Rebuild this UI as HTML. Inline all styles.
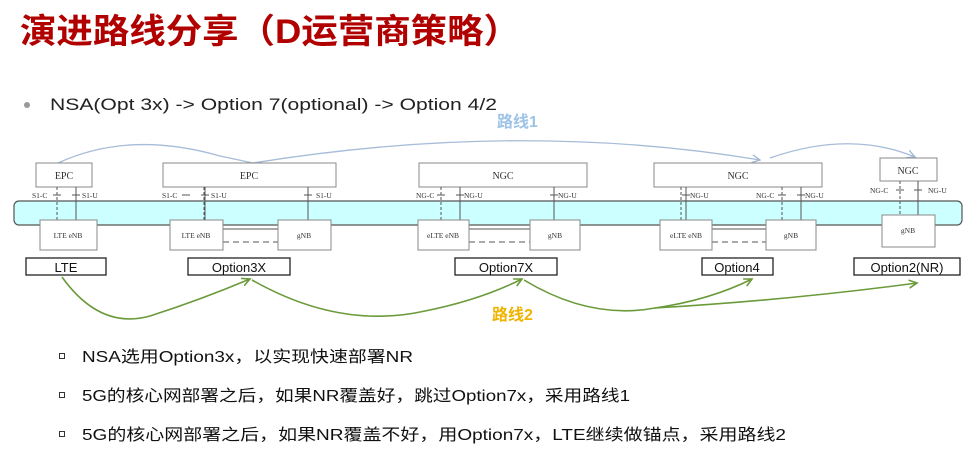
<!DOCTYPE html>
<html><head><meta charset="utf-8"><style>
html,body{margin:0;padding:0;background:#fff;}
svg{display:block;}
</style></head><body>
<svg width="973" height="461" viewBox="0 0 973 461" xmlns="http://www.w3.org/2000/svg" font-family="'Liberation Sans','Noto Sans CJK SC',sans-serif">
<defs>
<marker id="ab" markerWidth="10" markerHeight="10" refX="8" refY="5" orient="auto" markerUnits="userSpaceOnUse"><path d="M0,1 L8,5 L0,9" fill="none" stroke="#9fb6d6" stroke-width="1.3"/></marker>
<marker id="ag" markerWidth="10" markerHeight="10" refX="8" refY="5" orient="auto" markerUnits="userSpaceOnUse"><path d="M0,1 L8,5 L0,9" fill="none" stroke="#6a9a3a" stroke-width="1.6"/></marker>
</defs>
<text x="20" y="43" font-size="34" font-weight="bold" fill="#b00000" textLength="500" lengthAdjust="spacingAndGlyphs">演进路线分享（D运营商策略）</text>
<circle cx="27" cy="105" r="3" fill="#999"/>
<text x="50" y="110" font-size="17" fill="#222" textLength="447" lengthAdjust="spacingAndGlyphs">NSA(Opt 3x) -&gt; Option 7(optional) -&gt; Option 4/2</text>
<text x="497" y="127" font-size="16" font-weight="bold" fill="#9dc3e6">路线1</text>
<!-- route 1 -->
<g fill="none" stroke="#a7bcd8" stroke-width="1.3">
<path d="M58,163 Q130,130 220,156 L253,163"/>
<path d="M253,163 Q520,120 760,160" marker-end="url(#ab)"/>
<path d="M770,158 Q850,130 915,157" marker-end="url(#ab)"/>
</g>
<!-- band -->
<rect x="14" y="201" width="948" height="24" rx="5" fill="#ccffff" stroke="#555" stroke-width="1.2"/>
<g fill="#fff" stroke="#888" stroke-width="1">
<rect x="36" y="163" width="56" height="24"/>
<rect x="163" y="163" width="173" height="24"/>
<rect x="419" y="163" width="168" height="24"/>
<rect x="654" y="163" width="168" height="24"/>
<rect x="880" y="158" width="57" height="23"/>
</g>
<g stroke="#555" stroke-width="1" fill="none">
<path d="M57,187 V220 M204,187 V220 M441,187 V220 M681,187 V220 M900,181 V215 M782,187 V220" stroke-dasharray="3,2"/>
<path d="M76,187 V220 M205,187 V220 M308,187 V220 M460,187 V220 M554,187 V220 M686,187 V220 M801,187 V220 M918,181 V215"/>
<path d="M53,195 H61 M72,195 H80 M182,195 H190 M201,195 H209 M304,195 H312 M437,195 H445 M456,195 H464 M550,195 H558 M682,195 H690 M778,195 H786 M797,195 H805 M896,190 H904 M914,190 H922"/>
<path d="M223,242 H278 M469,242 H530 M712,242 H766" stroke-dasharray="6,4"/>
<path d="M223,229 H278 M469,229 H530 M712,229 H766"/>
</g>
<g fill="#fff" stroke="#888" stroke-width="1">
<rect x="40" y="220" width="57" height="30"/>
<rect x="170" y="220" width="53" height="30"/>
<rect x="278" y="220" width="53" height="30"/>
<rect x="418" y="220" width="51" height="30"/>
<rect x="530" y="220" width="50" height="30"/>
<rect x="660" y="220" width="52" height="30"/>
<rect x="766" y="220" width="50" height="30"/>
<rect x="882" y="215" width="53" height="32"/>
</g>
<g font-family="'Liberation Serif',serif" fill="#333" text-anchor="middle">
<g font-size="10"><text x="64" y="179">EPC</text><text x="249" y="179">EPC</text><text x="503" y="179">NGC</text><text x="738" y="179">NGC</text><text x="908" y="174">NGC</text></g>
<g font-size="7.5"><text x="68" y="238">LTE eNB</text><text x="196" y="238">LTE eNB</text><text x="304" y="238">gNB</text><text x="443" y="238">eLTE eNB</text><text x="555" y="238">gNB</text><text x="686" y="238">eLTE eNB</text><text x="791" y="238">gNB</text><text x="908" y="233">gNB</text></g>
<g font-size="7.5" text-anchor="start">
<text x="32" y="198">S1-C</text><text x="82" y="198">S1-U</text>
<text x="162" y="198">S1-C</text><text x="211" y="198">S1-U</text><text x="316" y="198">S1-U</text>
<text x="416" y="198">NG-C</text><text x="464" y="198">NG-U</text><text x="558" y="198">NG-U</text>
<text x="690" y="198">NG-U</text><text x="756" y="198">NG-C</text><text x="805" y="198">NG-U</text>
<text x="870" y="193">NG-C</text><text x="928" y="193">NG-U</text>
</g>
</g>
<g fill="#fff" stroke="#222" stroke-width="1.3">
<rect x="26" y="258" width="80" height="17"/>
<rect x="188" y="258" width="102" height="17"/>
<rect x="455" y="258" width="102" height="17"/>
<rect x="702" y="258" width="71" height="17"/>
<rect x="854" y="258" width="106" height="17"/>
</g>
<g font-size="13" fill="#111" text-anchor="middle">
<text x="66" y="272">LTE</text><text x="239" y="272">Option3X</text><text x="506" y="272">Option7X</text><text x="737" y="272">Option4</text><text x="907" y="272">Option2(NR)</text>
</g>
<!-- route 2 -->
<g fill="none" stroke="#6a9a3a" stroke-width="1.6">
<path d="M62,277 Q100,330 150,316 Q200,300 250,279" marker-end="url(#ag)"/>
<path d="M252,280 Q340,330 425,311 Q480,300 522,279" marker-end="url(#ag)"/>
<path d="M524,280 Q590,320 655,308 Q710,300 752,279" marker-end="url(#ag)"/>
<path d="M655,308 Q790,300 917,283" marker-end="url(#ag)"/>
</g>
<text x="492" y="320" font-size="16" font-weight="bold" fill="#f0b400">路线2</text>
<g fill="none" stroke="#333" stroke-width="1">
<rect x="59.5" y="353.5" width="5" height="5"/>
<rect x="59.5" y="392.5" width="5" height="5"/>
<rect x="59.5" y="431.5" width="5" height="5"/>
</g>
<g font-size="16" fill="#111">
<text x="82" y="362" textLength="331" lengthAdjust="spacingAndGlyphs">NSA选用Option3x，以实现快速部署NR</text>
<text x="82" y="401" textLength="548" lengthAdjust="spacingAndGlyphs">5G的核心网部署之后，如果NR覆盖好，跳过Option7x，采用路线1</text>
<text x="82" y="440" textLength="704" lengthAdjust="spacingAndGlyphs">5G的核心网部署之后，如果NR覆盖不好，用Option7x，LTE继续做锚点，采用路线2</text>
</g>
</svg>
</body></html>
